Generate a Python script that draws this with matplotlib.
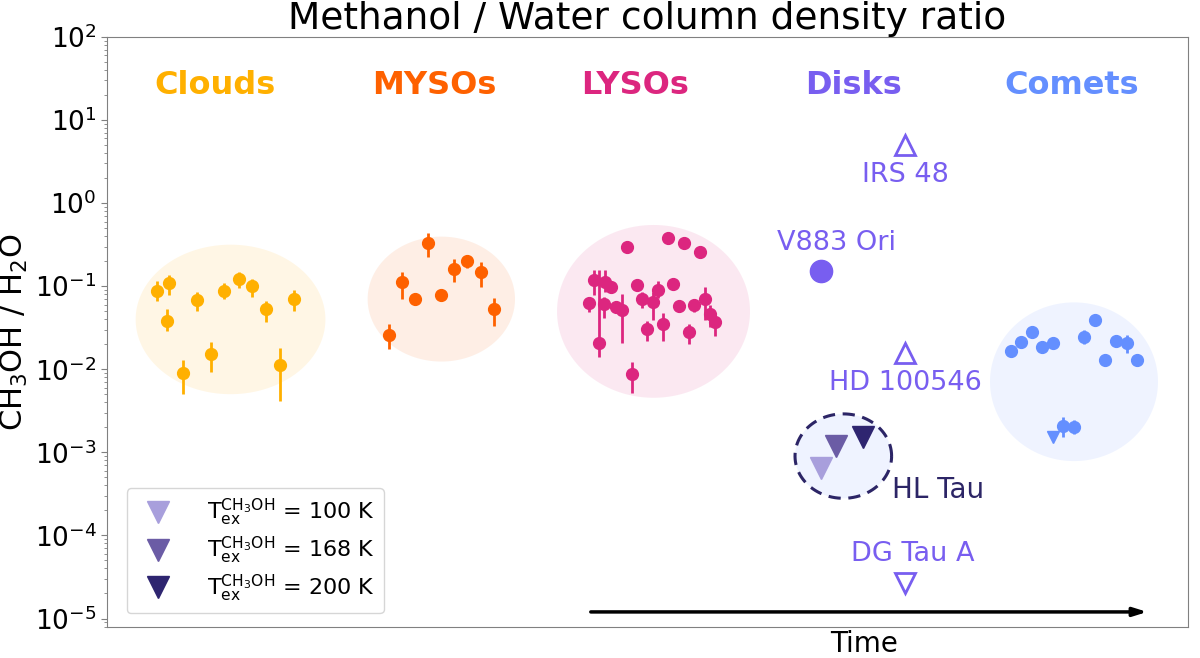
import numpy as np
import matplotlib
matplotlib.use("Agg")
import matplotlib.pyplot as plt

# --- data (x in arbitrary "time" units, y = CH3OH/H2O ratio) ---
clouds_x = [4.97, 6.2, 6.0, 7.57, 8.97, 10.37, 11.73, 13.17, 14.5, 15.9, 17.3, 18.67]
clouds_y = [0.0885, 0.1087, 0.0382, 0.00912, 0.0684, 0.01545, 0.0885, 0.1225, 0.100, 0.0529, 0.0112, 0.0703]
clouds_lo = [0.0671, 0.0785, 0.0292, 0.00506, 0.0508, 0.0093, 0.0697, 0.0946, 0.075, 0.0372, 0.00417, 0.050]
clouds_hi = [0.117, 0.137, 0.0533, 0.0130, 0.0853, 0.0215, 0.1087, 0.1486, 0.1225, 0.0671, 0.0182, 0.0902]

mysos_x = [28.17, 29.47, 30.8, 32.1, 33.43, 34.73, 36.03, 37.4, 38.7]
mysos_y = [0.0262, 0.1117, 0.0698, 0.332, 0.0793, 0.163, 0.200, 0.1486, 0.0533]
mysos_lo = [0.0176, 0.0703, 0.0698, 0.225, 0.0793, 0.1135, 0.165, 0.0973, 0.0336]
mysos_hi = [0.0349, 0.150, 0.0698, 0.434, 0.0793, 0.211, 0.227, 0.1945, 0.0723]

lysos_x = [48.2, 48.7, 49.23, 49.8, 49.73, 50.4, 50.9, 51.47, 51.97, 52.47, 52.97, 53.53, 54.03,
           54.57, 55.07, 55.6, 56.1, 56.63, 57.17, 57.7, 58.23, 58.73, 59.27, 59.77, 60.3, 60.83]
lysos_y = [0.0635, 0.118, 0.0210, 0.1135, 0.0612, 0.0989, 0.0559, 0.0519, 0.297, 0.00881, 0.1037, 0.0703, 0.0309,
           0.0647, 0.0910, 0.0352, 0.385, 0.1057, 0.0579, 0.332, 0.0279, 0.0596, 0.2565, 0.0698, 0.0464, 0.0372]
lysos_lo = [0.0494, 0.0785, 0.01422, 0.0861, 0.0412, 0.0989, 0.0559, 0.0210, 0.297, 0.00515, 0.1037, 0.0543, 0.0221,
            0.0393, 0.0718, 0.0221, 0.385, 0.1057, 0.0579, 0.332, 0.0202, 0.0494, 0.2565, 0.0393, 0.0321, 0.0252]
lysos_hi = [0.075, 0.157, 0.157, 0.157, 0.075, 0.0989, 0.0559, 0.0808, 0.297, 0.01217, 0.1037, 0.0861, 0.0386,
            0.0861, 0.1159, 0.0473, 0.385, 0.1057, 0.0579, 0.332, 0.0352, 0.0684, 0.2565, 0.0989, 0.0596, 0.0452]

comets_x = [90.37, 91.4, 92.47, 93.53, 94.6, 97.73, 98.8, 99.83, 100.9, 101.97, 103.03, 95.63, 96.73]
comets_y = [0.0168, 0.0214, 0.0282, 0.01845, 0.0210, 0.0247, 0.0390, 0.0131, 0.0216, 0.0208, 0.0130, 0.00208, 0.00204]
comets_lo = [0.0168, 0.0214, 0.0262, 0.01845, 0.0210, 0.0201, 0.0390, 0.0131, 0.0216, 0.0159, 0.0130, 0.00151, 0.00166]
comets_hi = [0.0168, 0.0214, 0.0300, 0.01845, 0.0210, 0.0298, 0.0390, 0.0131, 0.0216, 0.0259, 0.0130, 0.0027, 0.00242]
comet_limit_x = [94.6]
comet_limit_y = [0.00152]

# disks
v883_x, v883_y = 71.4, 0.154
irs48_x, irs48_y = 79.83, 5.0          # lower limit
hd_x, hd_y = 79.83, 0.0156             # lower limit
dgtau_x, dgtau_y = 79.83, 2.71e-5      # upper limit
hltau_x = [71.4, 72.9, 75.63]
hltau_y = [6.45e-4, 1.197e-3, 1.55e-3]
hltau_temps = [100, 168, 200]
hltau_colors = ['#a89fdc', '#6b5ca5', '#2e2570']

# group ellipses: (x centre, log10 y centre, x half-width, half-height in decades)
groups = {
    'Clouds': (12.35, -1.40, 9.49, 0.90),
    'MYSOs': (33.43, -1.155, 7.37, 0.752),
    'LYSOs': (54.65, -1.303, 9.65, 1.04),
    'Comets': (96.7, -2.15, 8.4, 0.955),
}
hltau_group = (73.63, -3.045, 4.83, 0.508)

cat_names = ['Clouds', 'MYSOs', 'LYSOs', 'Disks', 'Comets']
cat_x = [10.75, 32.7, 52.85, 74.65, 96.5]
cat_colors = ['#FFB000', '#FE6100', '#DC267F', '#785EF0', '#648FFF']
col = dict(zip(cat_names, cat_colors))


def ellipse_xy(xc, lyc, a, b):
    t = np.linspace(0, 2 * np.pi, 300)
    return xc + a * np.cos(t), 10 ** (lyc + b * np.sin(t))


fig = plt.figure(figsize=(12, 6.58), dpi=100)
ax = fig.add_axes([0.0892, 0.0471, 0.9008, 0.8967])
ax.set_yscale('log')
ax.set_xlim(0, 108.1)
ax.set_ylim(7.9e-6, 100)

# shaded groups
for name, (xc, lyc, a, b) in groups.items():
    ex, ey = ellipse_xy(xc, lyc, a, b)
    ax.fill(ex, ey, color=col[name], alpha=0.1, lw=0, zorder=1)

ex, ey = ellipse_xy(*hltau_group)
ax.fill(ex, ey, color='#648FFF', alpha=0.1, lw=0, zorder=1)
ax.plot(ex, ey, color='#2c2566', lw=2.2, ls=(0, (4, 2.5)), zorder=2)


def errs(y, lo, hi):
    y = np.array(y); return [y - np.array(lo), np.array(hi) - y]


ekw = dict(fmt='o', ms=8.5, elinewidth=2, capsize=0, zorder=3)
ax.errorbar(clouds_x, clouds_y, yerr=errs(clouds_y, clouds_lo, clouds_hi), color=col['Clouds'], **ekw)
ax.errorbar(mysos_x, mysos_y, yerr=errs(mysos_y, mysos_lo, mysos_hi), color=col['MYSOs'], **ekw)
ax.errorbar(lysos_x, lysos_y, yerr=errs(lysos_y, lysos_lo, lysos_hi), color=col['LYSOs'], **ekw)
ax.errorbar(comets_x, comets_y, yerr=errs(comets_y, comets_lo, comets_hi), color=col['Comets'], **ekw)
ax.plot(comet_limit_x, comet_limit_y, 'v', color=col['Comets'], ms=9, zorder=3)

# disks
dc = col['Disks']
ax.plot(v883_x, v883_y, 'o', color=dc, ms=16, zorder=3)
ax.plot(irs48_x, irs48_y, '^', mfc='none', mec=dc, mew=2, ms=14, zorder=3)
ax.plot(hd_x, hd_y, '^', mfc='none', mec=dc, mew=2, ms=14, zorder=3)
ax.plot(dgtau_x, dgtau_y, 'v', mfc='none', mec=dc, mew=2, ms=14, zorder=3)
for x, y, t, c in zip(hltau_x, hltau_y, hltau_temps, hltau_colors):
    ax.plot(x, y, 'v', color=c, ms=16, ls='none', zorder=3,
            label=r'T$_{\rm ex}^{\rm CH_3OH}$ = %d K' % t)

lab = dict(color=dc, fontsize=19.5, ha='center', va='center')
ax.text(v883_x + 1.5, 0.33, 'V883 Ori', **lab)
ax.text(irs48_x, 2.2, 'IRS 48', **lab)
ax.text(hd_x, 6.8e-3, 'HD 100546', **lab)
ax.text(dgtau_x + 0.7, 6.0e-5, 'DG Tau A', **lab)
ax.text(78.5, 3.5e-4, 'HL Tau', color='#2c2566', fontsize=20, ha='left', va='center')

# category names
for name, x, c in zip(cat_names, cat_x, cat_colors):
    ax.text(x, 26.4, name, color=c, fontsize=23, fontweight='bold', ha='center', va='center')

# time arrow
ax.annotate('', xy=(104.3, 1.2e-5), xytext=(48.1, 1.2e-5),
            arrowprops=dict(arrowstyle='-|>,head_length=0.8,head_width=0.25', color='black', lw=2.5))

ax.set_title('Methanol / Water column density ratio', fontsize=27, pad=3)
ax.set_ylabel(r'CH$_3$OH / H$_2$O', fontsize=22)
ax.yaxis.set_label_coords(-0.071, 0.5)
ax.set_xlabel('Time', fontsize=20, labelpad=2)
ax.xaxis.label.set_x(0.70)
ax.set_xticks([])
ax.tick_params(axis='y', which='major', labelsize=19, length=4, color='gray')
ax.tick_params(axis='y', which='minor', length=2, color='gray')
for s in ax.spines.values():
    s.set_color('gray')

ax.legend(loc='lower left', fontsize=16, handletextpad=1.2, borderpad=0.4,
          labelspacing=0.3, bbox_to_anchor=(0.008, 0.005))

fig.savefig('out.png')
